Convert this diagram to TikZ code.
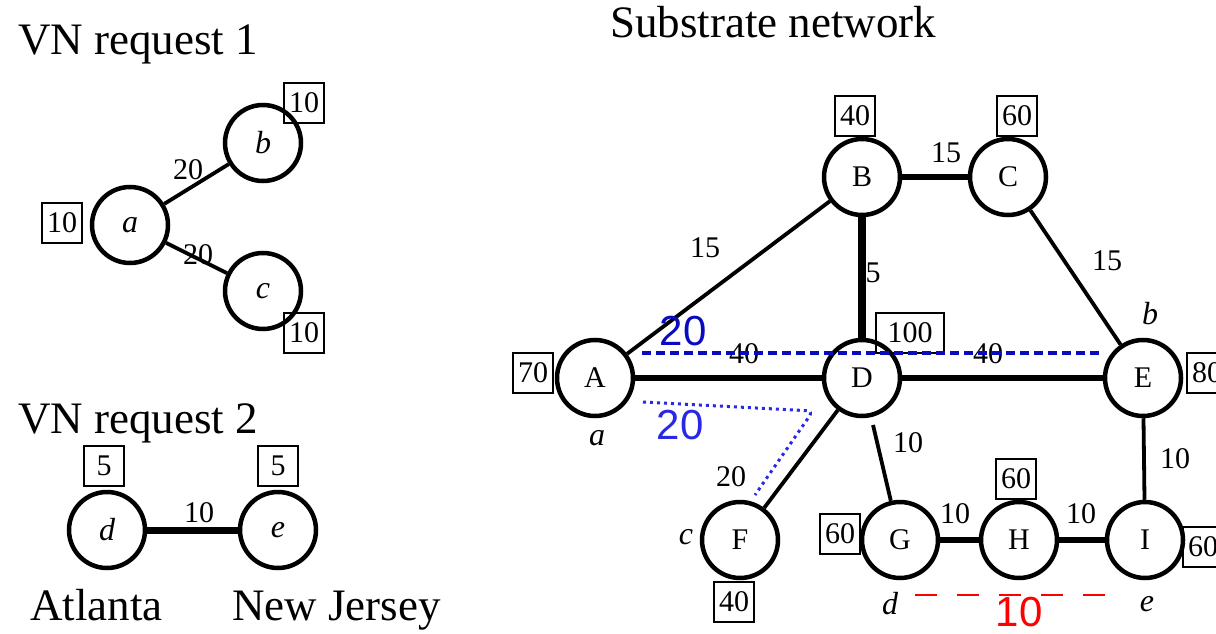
\documentclass[tikz,border=0pt]{standalone}
\usepackage{fontspec}
\setmainfont{Liberation Serif}
\newfontfamily\arialfont{Liberation Sans}
\definecolor{vnblue}{RGB}{10,10,190}
\definecolor{pathblue}{RGB}{40,40,230}

\begin{document}
\begin{tikzpicture}[x=1pt,y=-1pt,
  vnode/.style={circle, draw, line width=4.5pt, fill=white, minimum size=76pt, inner sep=0pt, font=\fontsize{30}{36}\selectfont},
  vreq/.style={vnode, font=\fontsize{32}{38}\selectfont\itshape},
  capbox/.style={draw, line width=1.8pt, minimum width=40pt, minimum height=40pt, inner sep=2pt, font=\fontsize{30}{36}\selectfont},
  wlbl/.style={inner sep=0pt, font=\fontsize{30}{36}\selectfont},
  maplbl/.style={inner sep=0pt, font=\fontsize{32}{38}\selectfont\itshape},
  heading/.style={anchor=base west, inner sep=0pt, font=\fontsize{45}{54}\selectfont},
  thinlink/.style={line width=3.8pt},
  thicklink/.style={line width=6pt},
  bluenum/.style={inner sep=0pt, text=vnblue, font=\arialfont\fontsize{42}{50}\selectfont}]

\useasboundingbox (0,0) rectangle (1216,634);

% Titel
\node[heading] (t1) at (18,55) {VN request 1};
\node[heading] (t2) at (18,433) {VN request 2};
\node[heading] (t3) at (610,38) {Substrate network};
\node[heading] (atl) at (30,620) {Atlanta};
\node[heading] (nj) at (232,620) {New Jersey};

% VN request 1
\node[vreq] (a) at (130,225) {a};
\node[vreq] (b) at (263,143) {b};
\node[vreq] (c) at (263,291) {c};
\draw[thinlink] (a) -- (b);
\draw[thinlink] (a) -- (c);
\node[capbox] (ca) at (62,223) {10};
\node[capbox] (cb) at (304,103) {10};
\node[capbox] (cc) at (304,333) {10};
\node[wlbl] (lab) at (188,170) {20};
\node[wlbl] (lac) at (198,255) {20};

% VN request 2
\node[vreq] (d) at (107,530) {d};
\node[vreq] (e) at (278,530) {e};
\draw[line width=7pt] (d) -- (e);
\node[capbox] (cd) at (104,466) {5};
\node[capbox] (ce) at (278,466) {5};
\node[wlbl] (lde) at (199,513) {10};

% Substratnetz
\node[vnode] (A) at (595,378) {A};
\node[vnode] (B) at (862,177) {B};
\node[vnode] (C) at (1008,177) {C};
\node[vnode] (D) at (862,378) {D};
\node[vnode] (E) at (1143,378) {E};
\node[vnode] (F) at (740,540) {F};
\node[vnode] (G) at (900,540) {G};
\node[vnode] (H) at (1019,540) {H};
\node[vnode] (I) at (1145,540) {I};

\node[wlbl] (lBD) at (873,273) {5};
\draw[thinlink] (A) -- (B);
\draw[line width=5.5pt] (B) -- (C);
\draw[line width=8pt] (B) -- (D);
\draw[thinlink] (C) -- (E);
\draw[thicklink] (A) -- (D);
\draw[thicklink] (D) -- (E);
\draw[thinlink] (D) -- (F);
\draw[thinlink, shorten <=8pt] (D) -- (G);
\draw[thinlink] (E) -- (I);
\draw[thicklink] (G) -- (H);
\draw[thicklink] (H) -- (I);

% Kapazitaeten
\node[capbox] (cA) at (533,373) {70};
\node[capbox, minimum width=68pt] (cD) at (910,333) {100};
\node[capbox] (cB) at (855,116) {40};
\node[capbox] (cC) at (1017,116) {60};
\node[capbox] (cE) at (1207,373) {80};
\node[capbox] (cF) at (734,602) {40};
\node[capbox] (cG) at (840,534) {60};
\node[capbox] (cH) at (1016,479) {60};
\node[capbox] (cI) at (1203,547) {60};

% Bandbreiten
\node[wlbl] (lAB) at (705,248) {15};
\node[wlbl] (lBC) at (946,153) {15};
\node[wlbl] (lCE) at (1107,261) {15};
\node[wlbl] (lAD) at (744,354) {40};
\node[wlbl] (lDE) at (988,354) {40};
\node[wlbl] (lDG) at (908,443) {10};
\node[wlbl] (lDF) at (731,477) {20};
\node[wlbl] (lGH) at (955,514) {10};
\node[wlbl] (lHI) at (1081,514) {10};
\node[wlbl] (lEI) at (1175,459) {10};

% Abbildung der virtuellen Knoten
\node[maplbl] (ma) at (597,438) {a};
\node[maplbl] (mb) at (1150,314) {b};
\node[maplbl] (mc) at (686,537) {c};
\node[maplbl] (md) at (890,604) {d};
\node[maplbl] (me) at (1147,604) {e};

% Abgebildete Pfade
\coordinate (p1) at (642,353);
\coordinate (p2) at (1099,353);
\draw[vnblue, line width=3.5pt, dash pattern=on 9pt off 5pt] (p1) -- (p2);
\node[bluenum] (n1) at (683,331) {20};

\coordinate (q1) at (643,402);
\coordinate (q2) at (813,411);
\coordinate (q3) at (755,495);
\draw[pathblue, line width=3pt, dash pattern=on 3pt off 4pt, rounded corners=6pt] (q1) -- (q2) -- (q3);
\node[bluenum, text=pathblue] (n2) at (680,425) {20};

\coordinate (r1) at (915,595);
\coordinate (r2) at (1110,595);
\draw[red, line width=2.2pt, dash pattern=on 22pt off 20pt] (r1) -- (r2);
\node[bluenum, text=red] (n3) at (1019,612) {10};

\end{tikzpicture}
\end{document}
